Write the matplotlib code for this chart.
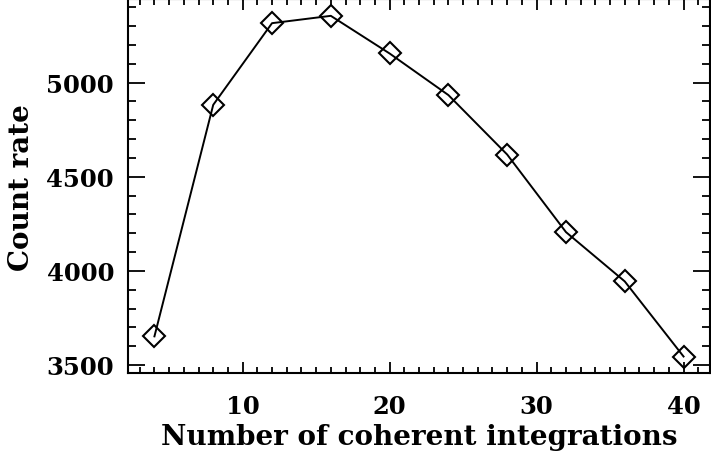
import matplotlib
matplotlib.use("Agg")
import matplotlib.pyplot as plt
from matplotlib.ticker import MultipleLocator

# number of coherent integrations vs count rate
n_coh = [4, 8, 12, 16, 20, 24, 28, 32, 36, 40]
count_rate = [3652, 4882, 5316, 5355, 5155, 4934, 4618, 4206, 3944, 3545]

plt.rcParams['font.family'] = ['DejaVu Serif']
plt.rcParams['font.weight'] = 'bold'

fig = plt.figure(figsize=(7.11, 4.56), dpi=100)
ax = fig.add_axes([0.18, 0.1805, 0.8186, 0.8185])

ax.plot(n_coh, count_rate, color='black', lw=1.4, marker='D', ms=11,
        mfc='none', mec='black', mew=1.5)

ax.set_xlim(2.2, 41.8)
ax.set_ylim(3459, 5442)
ax.xaxis.set_major_locator(MultipleLocator(10))
ax.xaxis.set_minor_locator(MultipleLocator(1))
ax.yaxis.set_major_locator(MultipleLocator(500))
ax.yaxis.set_minor_locator(MultipleLocator(100))

ax.tick_params(which='both', direction='in', top=True, right=True,
               labelsize=17.5, width=1.3)
ax.tick_params(axis='x', which='major', length=8, pad=15)
ax.tick_params(axis='x', which='minor', length=4)
ax.tick_params(axis='y', which='major', length=12, pad=10)
ax.tick_params(axis='y', which='minor', length=6)
for s in ax.spines.values():
    s.set_linewidth(1.5)

ax.set_xlabel('Number of coherent integrations', fontsize=20,
              fontweight='bold', labelpad=4)
ax.set_ylabel('Count rate', fontsize=20, fontweight='bold', labelpad=8)

fig.savefig('out.png', dpi=100)
